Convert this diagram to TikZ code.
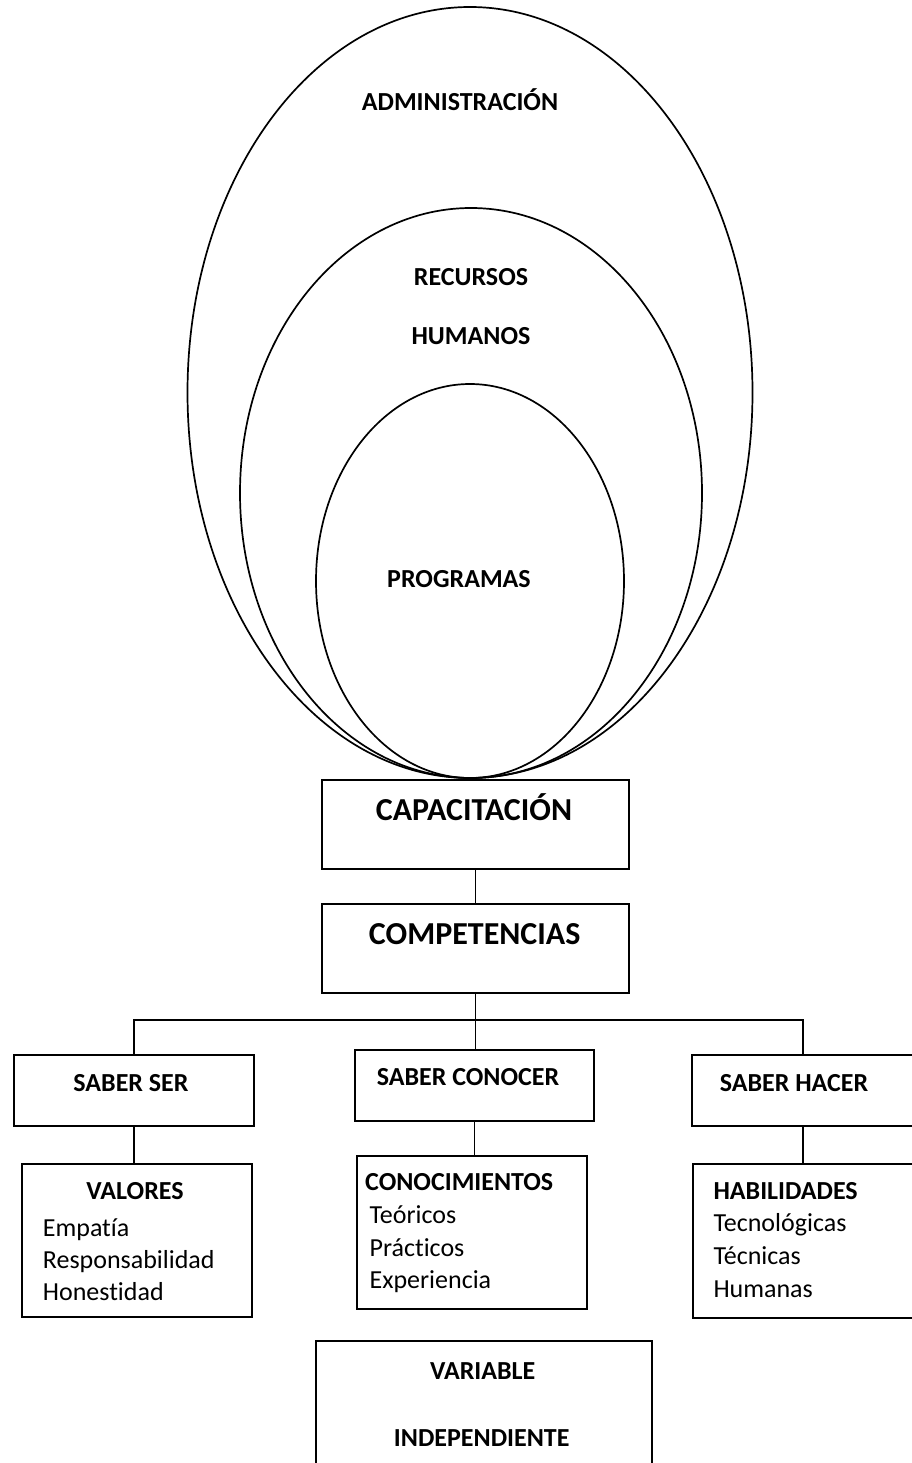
\documentclass[tikz,border=0pt]{standalone}
\usepackage{fontspec}
\setmainfont{Carlito}[Ligatures=NoCommon]
\begin{document}
\begin{tikzpicture}[x=1pt,y=-1pt,
  ring/.style={line width=1.7pt},
  box/.style={draw, line width=2pt, inner sep=0pt, anchor=north west},
  wire/.style={line width=1.6pt},
  big/.style={font=\fontsize{32}{38}\selectfont\bfseries, inner sep=0pt, anchor=base},
  head/.style={font=\fontsize{26}{31}\selectfont\bfseries, inner sep=0pt, anchor=base},
  headl/.style={head, anchor=base west},
  item/.style={font=\fontsize{26}{31}\selectfont, inner sep=0pt, anchor=base west}]

\useasboundingbox (0,0) rectangle (912,1463);
\clip (0,0) rectangle (912,1463);

% nested ellipses, all touching at the bottom
\draw[ring] (470,392.5) ellipse [x radius=282.5, y radius=385.5];
\draw[ring] (471,493) ellipse [x radius=231, y radius=285];
\draw[ring] (470,581) ellipse [x radius=154, y radius=197];

\node[head] (tadm)  at (460,111)   {ADMINISTRACIÓN};
\node[head] (trec)  at (471,285.7) {RECURSOS};
\node[head] (thum)  at (471,344.3) {HUMANOS};
\node[head] (tprog) at (459,587.3) {PROGRAMAS};

% boxes
\node[box, minimum width=307pt, minimum height=89pt]    (cap)  at (321,779)    {};
\node[box, minimum width=307pt, minimum height=89pt]    (comp) at (321,903)    {};
\node[box, minimum width=240pt, minimum height=71pt]    (ser)  at (13,1053.5)  {};
\node[box, minimum width=239pt, minimum height=71pt]    (con)  at (354,1048.5) {};
\node[box, minimum width=222pt, minimum height=71pt]    (hac)  at (691,1054)   {};
\node[box, minimum width=230pt, minimum height=153.5pt] (val)  at (21,1162.5)  {};
\node[box, minimum width=230pt, minimum height=153pt]   (kno)  at (356,1155)   {};
\node[box, minimum width=222pt, minimum height=154pt]   (hab)  at (692,1163)   {};
\node[box, minimum width=336pt, minimum height=160pt]   (var)  at (315,1339.5) {};

% connectors
\coordinate (bus) at (474.5,1020);
\draw[wire] (cap.south) -- (comp.north);
\draw[wire] (comp.south) -- (comp.south |- con.north);
\draw[wire] (ser.north) |- (bus) -| (hac.north);
\draw[wire] (ser.south) -- (ser.south |- val.north);
\draw[wire] (con.south) -- (con.south |- kno.north);
\draw[wire] (hac.south) -- (hac.south |- hab.north);

% box texts
\node[big]  (tcap)  at (474,820.7)  {CAPACITACIÓN};
\node[big]  (tcomp) at (474.7,944)  {COMPETENCIAS};
\node[head] (tser)  at (131,1091.7) {SABER SER};
\node[head] (tcon)  at (468,1085.7) {SABER CONOCER};
\node[head] (thac)  at (794,1091.7) {SABER HACER};

\node[head] (tval) at (135,1199.3)  {VALORES};
\node[item] (v1)   at (42.7,1236)   {Empatía};
\node[item] (v2)   at (42.7,1268.5) {Responsabilidad};
\node[item] (v3)   at (42.7,1300.7) {Honestidad};

\node[headl] (tkno) at (365,1190.7)   {CONOCIMIENTOS};
\node[item]  (k1)   at (369.4,1223.3) {Teóricos};
\node[item]  (k2)   at (369.4,1256)   {Prácticos};
\node[item]  (k3)   at (369.4,1288)   {Experiencia};

\node[headl] (thab) at (713.3,1199.3) {HABILIDADES};
\node[item]  (h1)   at (713.3,1231.7) {Tecnológicas};
\node[item]  (h2)   at (713.3,1264.3) {Técnicas};
\node[item]  (h3)   at (713.3,1297)   {Humanas};

\node[head] (tvar1) at (482.7,1379) {VARIABLE};
\node[head] (tvar2) at (481.7,1446) {INDEPENDIENTE};
\end{tikzpicture}
\end{document}
